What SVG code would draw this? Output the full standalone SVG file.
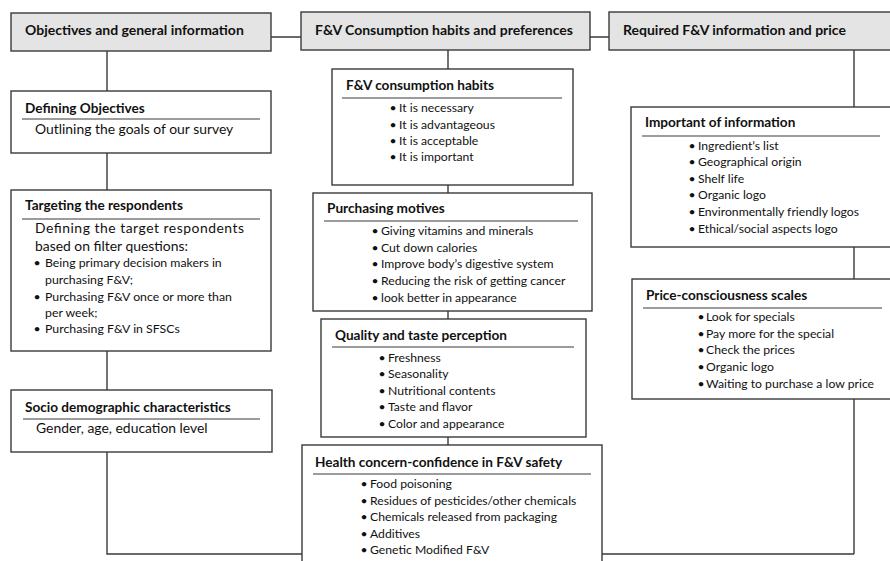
<svg xmlns="http://www.w3.org/2000/svg" width="890" height="561" viewBox="0 0 890 561">
<style>
.bg{fill:#ffffff}
.hdr{fill:#e4e4e4;stroke:#3a3a3a;stroke-width:1.4}
.box{fill:#ffffff;stroke:#3a3a3a;stroke-width:1.4}
.ln{stroke:#3a3a3a;stroke-width:1.4;fill:none}
.ul{stroke:#3a3a3a;stroke-width:1.1}
text{font-family:Lato,"Liberation Sans",sans-serif;fill:#111111}
.h{font-size:14px;font-weight:bold}
.t{font-size:13.6px;font-weight:bold}
.b{font-size:13.9px}
.s{font-size:12.3px}
.d{font-size:12.2px}
</style>
<rect class="bg" x="0" y="0" width="890" height="561"/>
<g id="connectors">
<path class="ln" d="M271 37H301M590 37H609"/>
<path class="ln" d="M107 51V91M107 153V190M107 351V390M107 452V554H854"/>
<path class="ln" d="M854 50V107M854 247V279M854 399V554"/>
<path class="ln" d="M448 50V69M448 185V193M448 311V319M448 437V445"/>
</g>
<g id="hdr-objectives">
<rect class="hdr" x="11" y="13" width="260" height="38"/>
<text class="h" x="25" y="35">Objectives and general information</text>
</g>
<g id="hdr-consumption">
<rect class="hdr" x="301" y="12" width="289" height="38"/>
<text class="h" x="315" y="35">F&amp;V Consumption habits and preferences</text>
</g>
<g id="hdr-required">
<rect class="hdr" x="609" y="12" width="300" height="38"/>
<text class="h" x="623" y="35">Required F&amp;V information and price</text>
</g>
<g id="defining">
<rect class="box" x="11" y="91" width="260" height="62"/>
<text class="t" x="25" y="113">Defining Objectives</text>
<line class="ul" x1="22" y1="119" x2="260" y2="119"/>
<text class="b" x="35" y="134">Outlining the goals of our survey</text>
</g>
<g id="targeting">
<rect class="box" x="11" y="190" width="260" height="161"/>
<text class="t" x="25" y="210">Targeting the respondents</text>
<line class="ul" x1="22" y1="219" x2="260" y2="219"/>
<text class="b" x="35" y="233" textLength="209" lengthAdjust="spacing">Defining the target respondents</text>
<text class="b" x="35" y="251">based on filter questions:</text>
<text class="s"><tspan x="37" y="267" text-anchor="middle">•</tspan><tspan x="45" y="267">Being primary decision makers in</tspan><tspan x="45" y="284">purchasing F&amp;V;</tspan><tspan x="37" y="301" text-anchor="middle">•</tspan><tspan x="45" y="301">Purchasing F&amp;V once or more than</tspan><tspan x="45" y="317">per week;</tspan><tspan x="37" y="333" text-anchor="middle">•</tspan><tspan x="45" y="333">Purchasing F&amp;V in SFSCs</tspan></text>
</g>
<g id="socio">
<rect class="box" x="11" y="390" width="261" height="62"/>
<text class="t" x="25" y="412">Socio demographic characteristics</text>
<line class="ul" x1="23" y1="419" x2="260" y2="419"/>
<text class="b" x="36" y="433">Gender, age, education level</text>
</g>
<g id="habits">
<rect class="box" x="332" y="69" width="241" height="116"/>
<text class="t" x="346" y="90">F&amp;V consumption habits</text>
<line class="ul" x1="342" y1="98" x2="562" y2="98"/>
<text class="d"><tspan x="393" y="112" text-anchor="middle">•</tspan><tspan x="399" y="112">It is necessary</tspan><tspan x="393" y="129" text-anchor="middle">•</tspan><tspan x="399" y="129">It is advantageous</tspan><tspan x="393" y="145" text-anchor="middle">•</tspan><tspan x="399" y="145">It is acceptable</tspan><tspan x="393" y="161" text-anchor="middle">•</tspan><tspan x="399" y="161">It is important</tspan></text>
</g>
<g id="motives">
<rect class="box" x="313" y="193" width="279" height="118"/>
<text class="t" x="327" y="213">Purchasing motives</text>
<line class="ul" x1="324" y1="221" x2="578" y2="221"/>
<text class="d"><tspan x="375" y="235" text-anchor="middle">•</tspan><tspan x="381" y="235">Giving vitamins and minerals</tspan><tspan x="375" y="252" text-anchor="middle">•</tspan><tspan x="381" y="252">Cut down calories</tspan><tspan x="375" y="268" text-anchor="middle">•</tspan><tspan x="381" y="268">Improve body’s digestive system</tspan><tspan x="375" y="285" text-anchor="middle">•</tspan><tspan x="381" y="285">Reducing the risk of getting cancer</tspan><tspan x="375" y="302" text-anchor="middle">•</tspan><tspan x="381" y="302">look better in appearance</tspan></text>
</g>
<g id="quality">
<rect class="box" x="321" y="319" width="265" height="118"/>
<text class="t" x="335" y="340">Quality and taste perception</text>
<line class="ul" x1="332" y1="347" x2="574" y2="347"/>
<text class="d"><tspan x="382" y="362" text-anchor="middle">•</tspan><tspan x="388" y="362">Freshness</tspan><tspan x="382" y="378" text-anchor="middle">•</tspan><tspan x="388" y="378">Seasonality</tspan><tspan x="382" y="395" text-anchor="middle">•</tspan><tspan x="388" y="395">Nutritional contents</tspan><tspan x="382" y="411" text-anchor="middle">•</tspan><tspan x="388" y="411">Taste and flavor</tspan><tspan x="382" y="428" text-anchor="middle">•</tspan><tspan x="388" y="428">Color and appearance</tspan></text>
</g>
<g id="health">
<rect class="box" x="302" y="445" width="300" height="130"/>
<text class="t" x="315" y="467">Health concern-confidence in F&amp;V safety</text>
<line class="ul" x1="313" y1="474" x2="591" y2="474"/>
<text class="d"><tspan x="364" y="488" text-anchor="middle">•</tspan><tspan x="370" y="488">Food poisoning</tspan><tspan x="364" y="505" text-anchor="middle">•</tspan><tspan x="370" y="505">Residues of pesticides/other chemicals</tspan><tspan x="364" y="521" text-anchor="middle">•</tspan><tspan x="370" y="521">Chemicals released from packaging</tspan><tspan x="364" y="538" text-anchor="middle">•</tspan><tspan x="370" y="538">Additives</tspan><tspan x="364" y="554" text-anchor="middle">•</tspan><tspan x="370" y="554">Genetic Modified F&amp;V</tspan></text>
</g>
<g id="information">
<rect class="box" x="631" y="107" width="280" height="140"/>
<text class="t" x="645" y="127">Important of information</text>
<line class="ul" x1="642" y1="136" x2="880" y2="136"/>
<text class="d"><tspan x="692" y="150" text-anchor="middle">•</tspan><tspan x="698" y="150">Ingredient’s list</tspan><tspan x="692" y="166" text-anchor="middle">•</tspan><tspan x="698" y="166">Geographical origin</tspan><tspan x="692" y="183" text-anchor="middle">•</tspan><tspan x="698" y="183">Shelf life</tspan><tspan x="692" y="199" text-anchor="middle">•</tspan><tspan x="698" y="199">Organic logo</tspan><tspan x="692" y="216" text-anchor="middle">•</tspan><tspan x="698" y="216">Environmentally friendly logos</tspan><tspan x="692" y="233" text-anchor="middle">•</tspan><tspan x="698" y="233">Ethical/social  aspects logo</tspan></text>
</g>
<g id="price">
<rect class="box" x="632" y="279" width="280" height="120"/>
<text class="t" x="646" y="300">Price-consciousness scales</text>
<line class="ul" x1="643" y1="308" x2="882" y2="308"/>
<text class="d"><tspan x="701" y="321" text-anchor="middle">•</tspan><tspan x="706" y="321">Look for specials</tspan><tspan x="701" y="338" text-anchor="middle">•</tspan><tspan x="706" y="338">Pay more for the special</tspan><tspan x="701" y="354" text-anchor="middle">•</tspan><tspan x="706" y="354">Check the prices</tspan><tspan x="701" y="371" text-anchor="middle">•</tspan><tspan x="706" y="371">Organic logo</tspan><tspan x="701" y="388" text-anchor="middle">•</tspan><tspan x="706" y="388">Waiting to purchase a low price</tspan></text>
</g>
</svg>
